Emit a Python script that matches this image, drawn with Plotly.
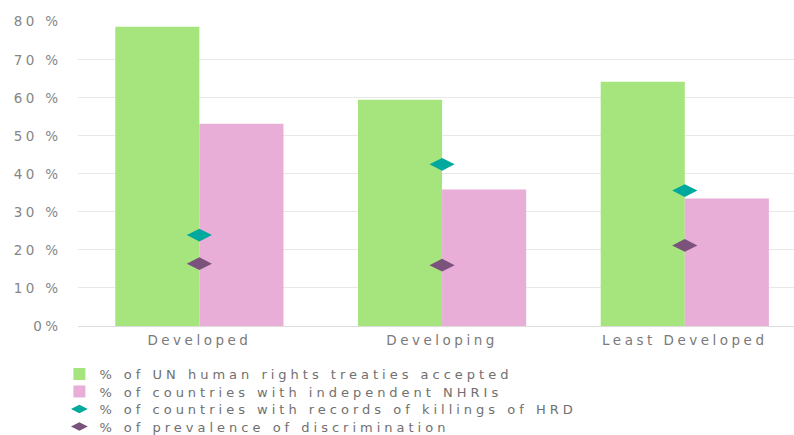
import plotly.graph_objects as go

categories = ["Developed", "Developing", "Least Developed"]
treaties = [78.7, 59.5, 64.2]
nhri = [53.2, 35.9, 33.5]
killings = [23.9, 42.5, 35.6]
discrimination = [16.4, 16.0, 21.2]
tick_vals = [0, 10, 20, 30, 40, 50, 60, 70, 80]
tick_text = ["0%", "10 %", "20 %", "30 %", "40 %", "50 %", "60 %", "70 %", "80 %"]

font = "DejaVu Sans"
fig = go.Figure()
fig.add_trace(go.Bar(x=categories, y=treaties, name="% of UN human rights treaties accepted",
                     marker=dict(color="#a6e57e", line=dict(width=0))))
fig.add_trace(go.Bar(x=categories, y=nhri, name="% of countries with independent NHRIs",
                     marker=dict(color="#e8aed8", line=dict(width=0))))
fig.add_trace(go.Scatter(x=categories, y=killings, mode="markers",
                         name="% of countries with records of killings of HRD",
                         marker=dict(symbol="diamond-wide", size=18, color="#00a99d", line=dict(width=0))))
fig.add_trace(go.Scatter(x=categories, y=discrimination, mode="markers",
                         name="% of prevalence of discrimination",
                         marker=dict(symbol="diamond-wide", size=18, color="#7b527b", line=dict(width=0))))

fig.update_layout(
    width=794, height=435,
    margin=dict(l=78, r=0, t=21, b=109, autoexpand=False),
    paper_bgcolor="white", plot_bgcolor="white",
    barmode="group", bargap=0.307, bargroupgap=0,
    font=dict(family=font, size=13.5, color="#7a7a7a"),
    showlegend=True,
    legend=dict(orientation="v", x=-0.026, xanchor="left", y=-0.105, yanchor="top",
                font=dict(family=font, size=13, color="#707070"),
                tracegroupgap=0, itemwidth=30, traceorder="normal", itemsizing="constant"),
    xaxis=dict(range=[-0.5, 2.45], showgrid=False, zeroline=False, showline=False,
               tickfont=dict(family=font, size=13.5, color="#7a7a7a"), ticks="",
               ticklabelstandoff=4),
    yaxis=dict(range=[0, 80.2], tickvals=tick_vals, ticktext=tick_text,
               showgrid=True, gridcolor="#e8e8e8", gridwidth=1,
               zeroline=True, zerolinecolor="#dcdcdc", zerolinewidth=1,
               tickfont=dict(family=font, size=13.5, color="#858585"),
               ticks="outside", ticklen=13, tickcolor="rgba(0,0,0,0)"),
)

post = """
document.body.style.margin = '0';
document.documentElement.style.overflow = 'hidden';
var gd = document.getElementById('{plot_id}');
function spread() {
  gd.querySelectorAll('.legendtext').forEach(function(e){ e.style.letterSpacing = '4px'; });
  gd.querySelectorAll('.xtick text').forEach(function(e){ e.style.letterSpacing = '3.5px'; });
  gd.querySelectorAll('.ytick text').forEach(function(e){ e.style.letterSpacing = '3.3px'; });
  gd.querySelectorAll('.legend [clip-path]').forEach(function(e){ e.removeAttribute('clip-path'); });
  gd.querySelectorAll('.legend .scrollbar').forEach(function(e){ e.style.display = 'none'; });
  var items = gd.querySelectorAll('.legend .traces');
  if (items.length) {
    var m = /translate\\(([-\\d.]+)[ ,]+([-\\d.]+)\\)/.exec(items[0].getAttribute('transform') || '');
    if (m) {
      var x0 = parseFloat(m[1]), y0 = parseFloat(m[2]) + 1;
      items.forEach(function(e, i){ e.setAttribute('transform', 'translate(' + x0 + ',' + (y0 + i * 17.5) + ')'); });
    }
  }
}
spread();
gd.on('plotly_afterplot', spread);
"""
fig.write_html("out.html", post_script=post, config={"displayModeBar": False})
